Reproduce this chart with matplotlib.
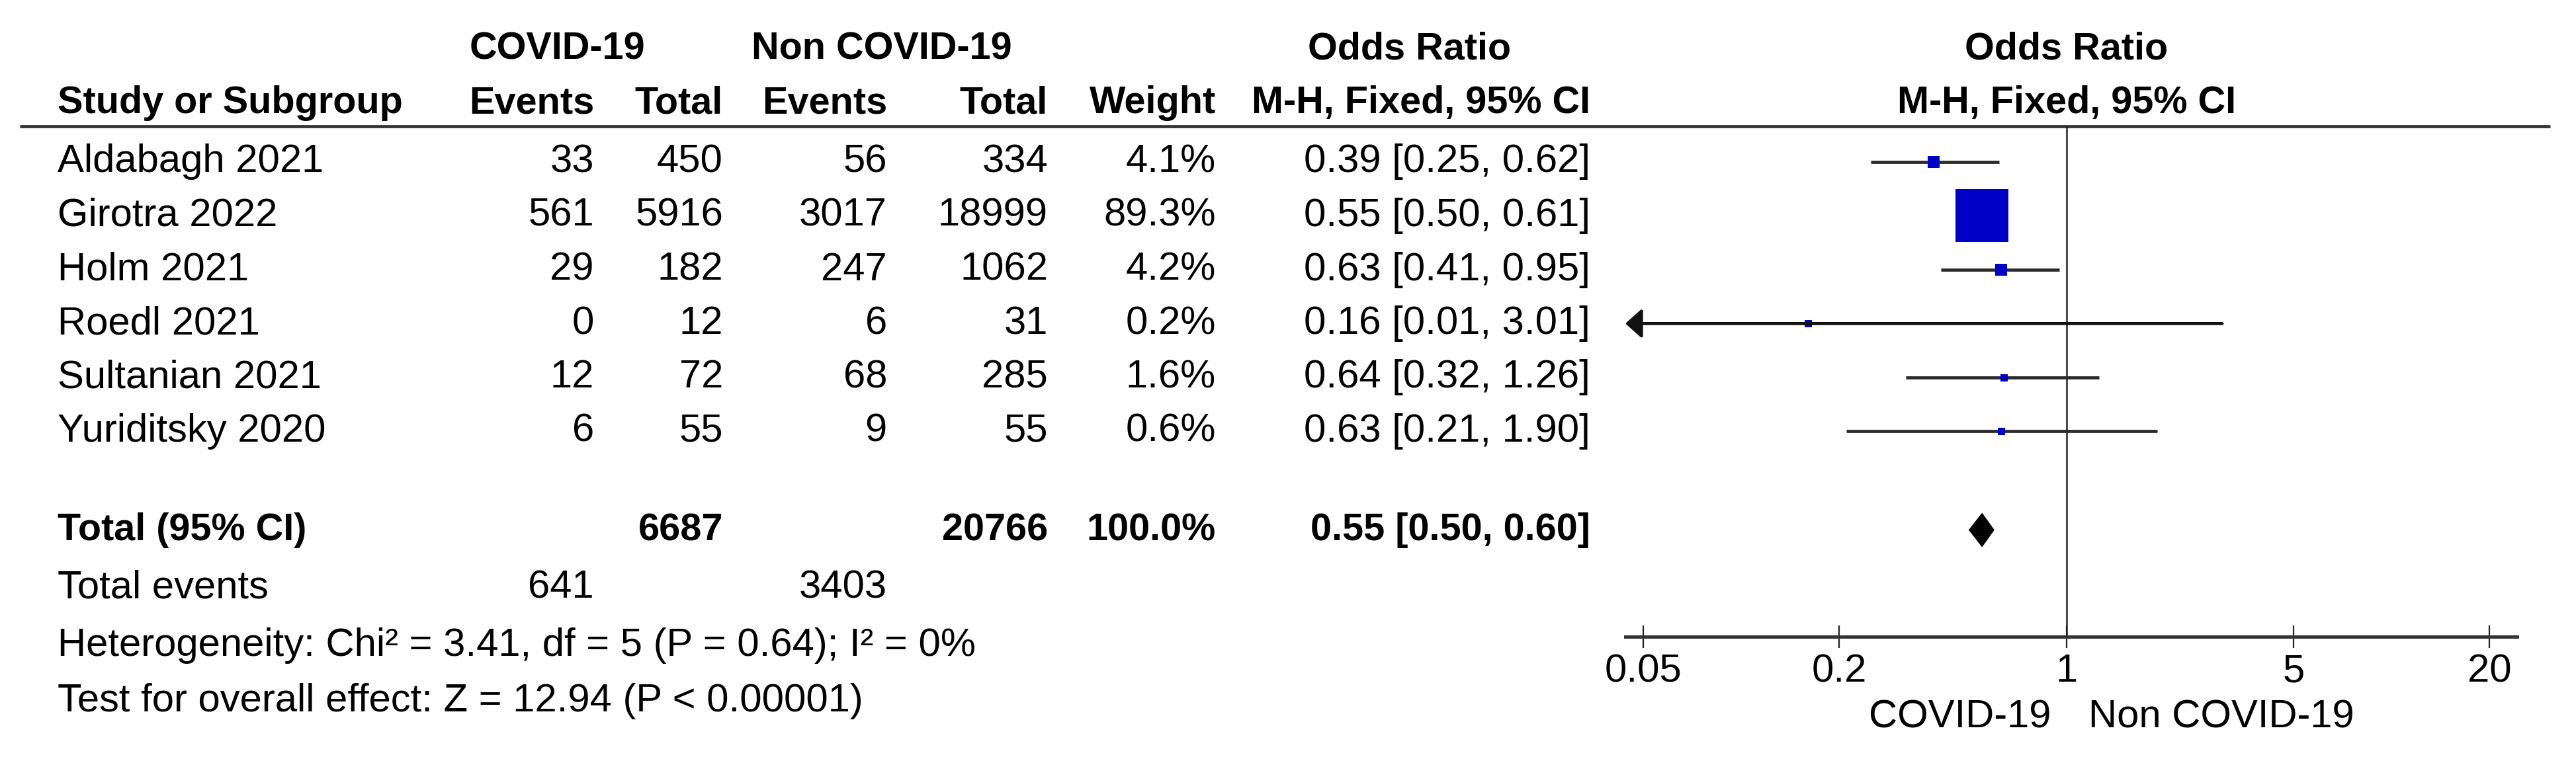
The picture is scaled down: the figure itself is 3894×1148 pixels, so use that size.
import matplotlib
matplotlib.use("Agg")
import matplotlib.pyplot as plt
from matplotlib.ticker import FixedLocator, NullLocator

plt.rcParams['font.family'] = ['Liberation Sans', 'DejaVu Sans']

studies = ['Aldabagh 2021', 'Girotra 2022', 'Holm 2021', 'Roedl 2021',
           'Sultanian 2021', 'Yuriditsky 2020']
covid_events = [33, 561, 29, 0, 12, 6]
covid_total = [450, 5916, 182, 12, 72, 55]
non_events = [56, 3017, 247, 6, 68, 9]
non_total = [334, 18999, 1062, 31, 285, 55]
weights = [4.1, 89.3, 4.2, 0.2, 1.6, 0.6]
odds = [0.39, 0.55, 0.63, 0.16, 0.64, 0.63]
ci_low = [0.25, 0.50, 0.41, 0.01, 0.32, 0.21]
ci_high = [0.62, 0.61, 0.95, 3.01, 1.26, 1.90]

total_covid = 6687
total_non = 20766
total_weight = 100.0
total_or = 0.55
total_lo = 0.50
total_hi = 0.60
events_covid = 641
events_non = 3403
heterogeneity = 'Heterogeneity: Chi² = 3.41, df = 5 (P = 0.64); I² = 0%'
overall = 'Test for overall effect: Z = 12.94 (P < 0.00001)'

ticks = [0.05, 0.2, 1, 5, 20]
tick_labels = ['0.05', '0.2', '1', '5', '20']

W, H = 3894, 1148
fig = plt.figure(figsize=(W / 100, H / 100), dpi=100)

# table part, pixel coordinates
ax = fig.add_axes([0, 0, 1, 1])
ax.set_xlim(0, W)
ax.set_ylim(H, 0)
ax.axis('off')

fs = 43
fs_b = 41.5
row_y = [245 + 81.5 * i for i in range(len(studies))]
x_name = 87
x_ce, x_ct, x_ne, x_nt, x_w, x_or = 898, 1093, 1341, 1584, 1838, 2404

bold = dict(fontsize=fs_b, fontweight='bold', va='center')
ax.text(842, 75, 'COVID-19', ha='center', **bold)
ax.text(1333, 75, 'Non COVID-19', ha='center', **bold)
ax.text(2131, 75, 'Odds Ratio', ha='center', **bold)
ax.text(3124, 75, 'Odds Ratio', ha='center', **bold)
ax.text(x_name, 156, 'Study or Subgroup', ha='left', **bold)
for x, s in [(x_ce, 'Events'), (x_ct, 'Total'), (x_ne, 'Events'),
             (x_nt, 'Total'), (x_w, 'Weight'), (x_or, 'M-H, Fixed, 95% CI')]:
    ax.text(x, 156, s, ha='right', **bold)
ax.text(3124, 156, 'M-H, Fixed, 95% CI', ha='center', **bold)
ax.plot([30, 3855], [191, 191], color='#333333', lw=3.4, solid_capstyle='butt')

norm = dict(fontsize=fs, va='center')
for i, name in enumerate(studies):
    y = row_y[i]
    ax.text(x_name, y, name, ha='left', **norm)
    ax.text(x_ce, y, str(covid_events[i]), ha='right', **norm)
    ax.text(x_ct, y, str(covid_total[i]), ha='right', **norm)
    ax.text(x_ne, y, str(non_events[i]), ha='right', **norm)
    ax.text(x_nt, y, str(non_total[i]), ha='right', **norm)
    ax.text(x_w, y, f'{weights[i]:.1f}%', ha='right', **norm)
    ax.text(x_or, y, f'{odds[i]:.2f} [{ci_low[i]:.2f}, {ci_high[i]:.2f}]', ha='right', **norm)

y_tot = 802
ax.text(x_name, y_tot, 'Total (95% CI)', ha='left', **bold)
ax.text(x_ct, y_tot, str(total_covid), ha='right', **bold)
ax.text(x_nt, y_tot, str(total_non), ha='right', **bold)
ax.text(x_w, y_tot, f'{total_weight:.1f}%', ha='right', **bold)
ax.text(x_or, y_tot, f'{total_or:.2f} [{total_lo:.2f}, {total_hi:.2f}]', ha='right', **bold)
ax.text(x_name, 889, 'Total events', ha='left', **norm)
ax.text(x_ce, 889, str(events_covid), ha='right', **norm)
ax.text(x_ne, 889, str(events_non), ha='right', **norm)
ax.text(x_name, 976, heterogeneity, ha='left', **norm)
ax.text(x_name, 1060, overall, ha='left', **norm)

# forest plot
fx0, fx1, fy0, fy1 = 2457, 3805, 191, 963
fax = fig.add_axes([fx0 / W, 1 - fy1 / H, (fx1 - fx0) / W, (fy1 - fy0) / H])
fax.set_xscale('log')
xmin, xmax = 0.044, 24.3
fax.set_xlim(xmin, xmax)
row_top, row_bot = -0.66, 8.81
fax.set_ylim(row_bot, row_top)
fax.patch.set_alpha(0)
for s in ['top', 'left', 'right']:
    fax.spines[s].set_visible(False)
fax.spines['bottom'].set_linewidth(3.6)
fax.spines['bottom'].set_color('#333333')
fax.yaxis.set_major_locator(NullLocator())
fax.xaxis.set_major_locator(FixedLocator(ticks))
fax.xaxis.set_minor_locator(NullLocator())
fax.set_xticklabels(tick_labels)
fax.tick_params(axis='x', direction='inout', length=24, width=1.6, pad=6,
                labelsize=fs, color='#222222')

fax.axvline(1, color='#222222', lw=1.8)

blue = '#0000C8'
line_c = '#2a2a2a'
for i in range(len(studies)):
    if ci_low[i] < xmin:
        fax.annotate('', xy=(xmin, i), xytext=(ci_high[i], i),
                     arrowprops=dict(arrowstyle='-|>,head_length=0.5,head_width=0.45',
                                     color='#111111', lw=3.4,
                                     mutation_scale=30, shrinkA=0, shrinkB=0))
    else:
        fax.plot([ci_low[i], ci_high[i]], [i, i], color=line_c, lw=3.4,
                 solid_capstyle='butt')
    side_px = max(80 * (weights[i] / max(weights)) ** 0.5, 11)
    fax.plot(odds[i], i, marker='s', ms=side_px * 0.72, color=blue, mew=0)

ti = 6.83
h = 0.32
fax.fill([total_lo, total_or, total_hi, total_or], [ti, ti - h, ti, ti + h],
         color='black', lw=0)

ax.text(3100, 1085, 'COVID-19', ha='right', **norm)
ax.text(3157, 1085, 'Non COVID-19', ha='left', **norm)

fig.savefig('out.png', dpi=100)
